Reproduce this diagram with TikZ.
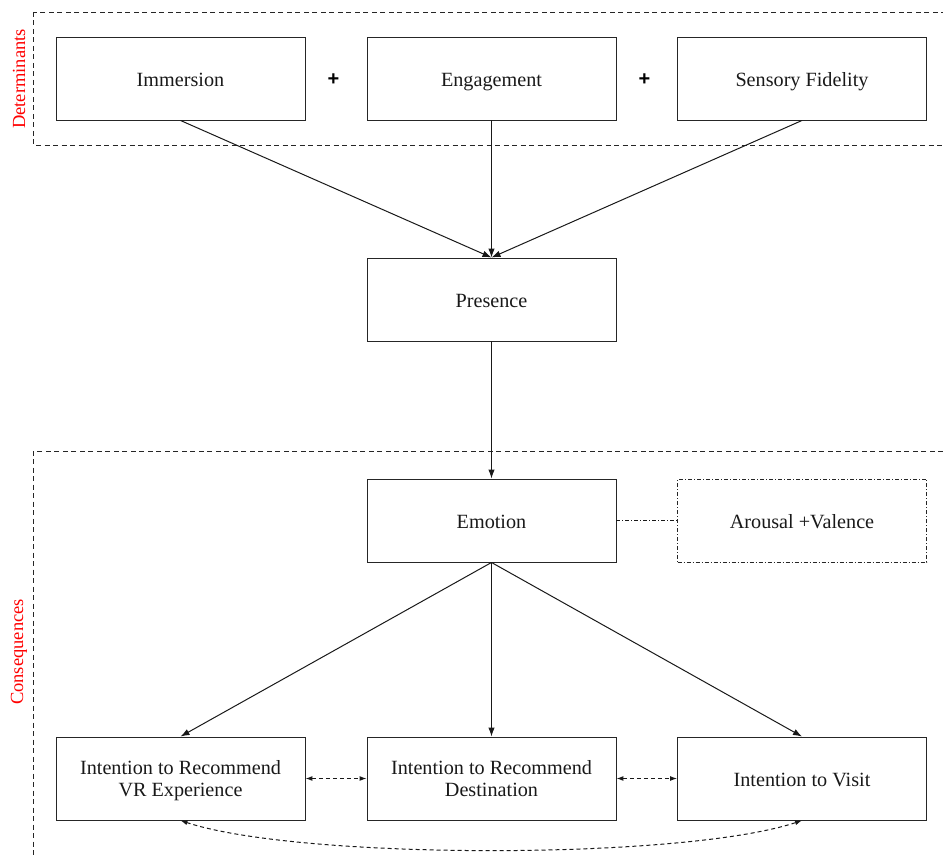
\documentclass[tikz,border=0pt]{standalone}
\usepackage{fontspec}
\setmainfont{Liberation Serif}
\newfontfamily\plusfont{Liberation Sans}
\usetikzlibrary{arrows.meta}
\begin{document}
\begin{tikzpicture}[x=1pt,y=-1pt,
  box/.style={draw=black!85,line width=0.95pt,minimum width=249pt,minimum height=83pt,inner sep=0pt,align=center,font=\fontsize{20.2}{22}\selectfont,text=black!90},
  onel/.style={text height=18pt,text depth=1.6pt},
  twol/.style={text height=38pt,text depth=1.6pt},
  dbox/.style={box,dash pattern=on 4pt off 2pt on 1pt off 2pt},
  grp/.style={draw=black!85,line width=0.95pt,dash pattern=on 5pt off 3.5pt},
  lab/.style={text=red,font=\fontsize{18.5}{20}\selectfont,rotate=90,inner sep=0pt},
  plus/.style={font=\plusfont\bfseries\fontsize{20}{20}\selectfont,inner sep=0pt},
  arr/.style={-{Latex[length=9pt,width=6.5pt]},line width=1pt,black!90},
  darr/.style={{Latex[length=7pt,width=5pt]}-{Latex[length=7pt,width=5pt]},line width=1pt,black!90,dash pattern=on 4pt off 3pt},
  ]
\useasboundingbox (0,0) rectangle (943,856);
\begin{scope}
\clip (0,0) rectangle (943,856);
\draw[grp] (33,12) rectangle (960,145);
\draw[grp] (960,451) -- (33,451) -- (33,870);
\end{scope}
\node[lab] (det) at (19,79) {Determinants};
\node[lab] (con) at (19,652) {Consequences};

\node[box,onel] (imm) at (180.5,78.5) {Immersion};
\node[box,onel] (eng) at (491.5,78.5) {Engagement};
\node[box,onel] (sen) at (802,78.5) {Sensory Fidelity};
\node[plus] (p1) at (333.5,80) {+};
\node[plus] (p2) at (644.5,80) {+};

\node[box,onel] (pre) at (491.5,299.5) {Presence};
\node[box,onel] (emo) at (491.5,520.5) {Emotion};
\node[dbox,onel] (aro) at (802,520.5) {Arousal +Valence};

\node[box,twol] (ivr) at (180.5,778.5) {Intention to Recommend\\VR Experience};
\node[box,twol] (ide) at (491.5,778.5) {Intention to Recommend\\Destination};
\node[box,onel] (ivi) at (802,778.5) {Intention to Visit};

\draw[arr] (imm.south) -- (pre.north);
\draw[arr] (eng.south) -- (pre.north);
\draw[arr] (sen.south) -- (pre.north);
\draw[arr] (pre.south) -- (emo.north);
\draw[line width=1pt,black!90,dash pattern=on 4pt off 2pt on 1pt off 2pt] (emo.east) -- (aro.west);
\draw[arr] (emo.south) -- (ivr.north);
\draw[arr] (emo.south) -- (ide.north);
\draw[arr] (emo.south) -- (ivi.north);
\draw[darr] (ivr.east) -- (ide.west);
\draw[darr] (ide.east) -- (ivi.west);
\draw[darr] (ivr.south) .. controls (300,860) and (683,860) .. (ivi.south);
\end{tikzpicture}
\end{document}
